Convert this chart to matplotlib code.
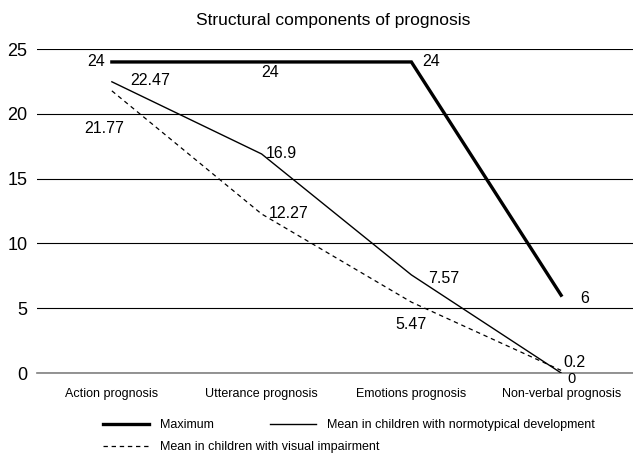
import matplotlib
matplotlib.use("Agg")
import matplotlib.pyplot as plt
from matplotlib.lines import Line2D

categories = ["Action prognosis", "Utterance prognosis", "Emotions prognosis", "Non-verbal prognosis"]
maximum = [24, 24, 24, 6]
normotypical = [22.47, 16.9, 7.57, 0]
visual = [21.77, 12.27, 5.47, 0.2]
yticks = [0, 5, 10, 15, 20, 25]
title = "Structural components of prognosis"
labels = ["Maximum", "Mean in children with normotypical development",
          "Mean in children with visual impairment"]

plt.rcParams['font.family'] = ['Liberation Sans', 'DejaVu Sans']

W, H = 633, 459
fig = plt.figure(figsize=(W / 100, H / 100), dpi=100)
ax = fig.add_axes([37 / W, (H - 373) / H, 599 / W, 324 / H])

x = list(range(len(categories)))
l_max, = ax.plot(x, maximum, color="black", lw=2.4, solid_joinstyle="miter", zorder=3)
l_norm, = ax.plot(x, normotypical, color="black", lw=1.0, zorder=3)
l_vis, = ax.plot(x, visual, color="black", lw=0.9, linestyle=(0, (3.5, 3)), zorder=3)

ax.set_xlim(-0.5, 3.5)
ax.set_ylim(0, 25)
ax.set_yticks(yticks)
ax.set_xticks(x)
ax.set_xticklabels(categories, fontsize=9)
ax.tick_params(axis='y', length=0, pad=7, labelsize=13)
ax.tick_params(axis='x', length=0, pad=11)
ax.grid(axis='y', color="black", lw=0.8, zorder=1)
ax.set_axisbelow(True)
for s in ["top", "right", "left"]:
    ax.spines[s].set_visible(False)
ax.spines["bottom"].set_color("#808080")
ax.spines["bottom"].set_linewidth(1.2)

fig.text(333 / W, 1 - 20 / H, title, ha="center", va="center", fontsize=12.5)

def lab(xi, yi, txt, dx, dy, ha="center", fs=11.5):
    ax.annotate(txt, (xi, yi), xytext=(dx, dy), textcoords="offset pixels",
                ha=ha, va="center", fontsize=fs)

# Maximum labels
lab(0, maximum[0], "24", -7, 0, ha="right")
lab(1, maximum[1], "24", 9, -11)
lab(2, maximum[2], "24", 20, 0)
lab(3, maximum[3], "6", 24, -3)
# Normotypical labels
lab(0, normotypical[0], "22.47", 38, 1)
lab(1, normotypical[1], "16.9", 20, 0)
lab(2, normotypical[2], "7.57", 32, -4)
lab(3, normotypical[3], "0", 10, -6, fs=10.5)
# Visual impairment labels
lab(0, visual[0], "21.77", -8, -38)
lab(1, visual[1], "12.27", 27, 0)
lab(2, visual[2], "5.47", 0, -22)
lab(3, visual[3], "0.2", 13, 8)

# Legend row 1
h1 = [Line2D([], [], color="black", lw=2.4), Line2D([], [], color="black", lw=1.0)]
leg1 = fig.legend(h1, labels[:2], ncol=2, frameon=False, fontsize=9,
                  loc="center left", bbox_to_anchor=(103 / W, 1 - 425 / H),
                  borderpad=0, borderaxespad=0, handlelength=3.7,
                  handletextpad=0.85, columnspacing=4.5)
h2 = [Line2D([], [], color="black", lw=0.9, linestyle=(0, (3.5, 3)))]
leg2 = fig.legend(h2, labels[2:], frameon=False, fontsize=9,
                  loc="center left", bbox_to_anchor=(103 / W, 1 - 447 / H),
                  borderpad=0, borderaxespad=0, handlelength=3.7,
                  handletextpad=0.85)

fig.savefig("out.png", dpi=100)
